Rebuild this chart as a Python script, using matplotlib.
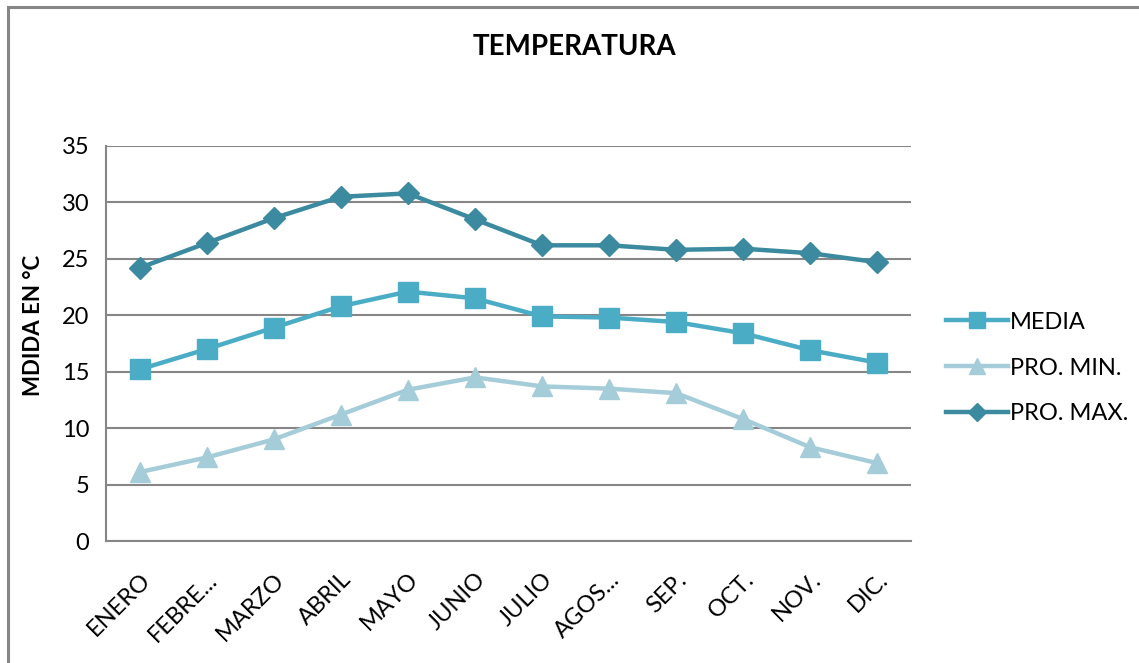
import matplotlib
matplotlib.use("Agg")
import matplotlib.pyplot as plt
from matplotlib.patches import Rectangle

plt.rcParams['font.family'] = ['Lato', 'DejaVu Sans']

months = ["ENERO", "FEBRE...", "MARZO", "ABRIL", "MAYO", "JUNIO", "JULIO",
          "AGOS...", "SEP.", "OCT.", "NOV.", "DIC."]
media = [15.2, 17.0, 18.9, 20.8, 22.1, 21.5, 19.9, 19.8, 19.4, 18.4, 16.9, 15.8]
pro_min = [6.1, 7.4, 9.0, 11.2, 13.4, 14.5, 13.7, 13.5, 13.1, 10.8, 8.3, 6.9]
pro_max = [24.2, 26.4, 28.6, 30.5, 30.8, 28.5, 26.2, 26.2, 25.8, 25.9, 25.5, 24.7]
yticks = [0, 5, 10, 15, 20, 25, 30, 35]

W, H = 1139, 663
fig = plt.figure(figsize=(W / 100, H / 100), dpi=100)
fig.patch.set_facecolor('white')

# outer chart border (top and left visible)
fig.patches.append(Rectangle((8 / W, -0.1), 1.2, (H - 7) / H + 0.1,
                             transform=fig.transFigure, fill=False,
                             edgecolor='#868686', linewidth=2.2))

ax = fig.add_axes([106 / W, (H - 541) / H, (911 - 106) / W, (541 - 146) / H])
x = list(range(len(months)))

ax.plot(x, media, color='#4BACC6', linewidth=3.2, marker='s', markersize=14,
        markeredgecolor='#4BACC6', label='MEDIA', zorder=3)
ax.plot(x, pro_min, color='#A5CCD9', linewidth=3.2, marker='^', markersize=15,
        markeredgecolor='#A5CCD9', label='PRO. MIN.', zorder=3)
ax.plot(x, pro_max, color='#3C8A9F', linewidth=3.2, marker='D', markersize=11,
        markeredgecolor='#3C8A9F', label='PRO. MAX.', zorder=3)

ax.set_xlim(-0.5, len(months) - 0.5)
ax.set_ylim(0, 35)
ax.set_yticks(yticks)
ax.set_yticklabels([str(v) for v in yticks], fontsize=17)
ax.set_xticks(x)
ax.set_xticklabels(months, fontsize=17, rotation=45, ha='right',
                   rotation_mode='anchor')
ax.tick_params(axis='y', length=0, pad=12)
ax.tick_params(axis='x', length=0, pad=20)
for lbl in ax.get_xticklabels():
    lbl.set_x(lbl.get_position()[0])
ax.yaxis.grid(True, color='#868686', linewidth=1.5)
ax.set_axisbelow(True)
for s in ['top', 'right']:
    ax.spines[s].set_visible(False)
for s in ['left', 'bottom']:
    ax.spines[s].set_color('#868686')
    ax.spines[s].set_linewidth(1.5)

fig.text(34 / W, 1 - 325 / H, 'MDIDA EN °C', fontsize=16, fontweight='bold',
         rotation=90, ha='center', va='center')

fig.text(574 / W, 1 - 47 / H, 'TEMPERATURA', fontsize=20, fontweight='bold',
         ha='center', va='center')

leg = fig.legend(loc='center left', bbox_to_anchor=(925 / W, 1 - 368 / H),
                 frameon=False, fontsize=17, handlelength=2.6,
                 handletextpad=0.1, labelspacing=1.05, markerscale=0.8)

fig.savefig('out.png', dpi=100, facecolor='white')
